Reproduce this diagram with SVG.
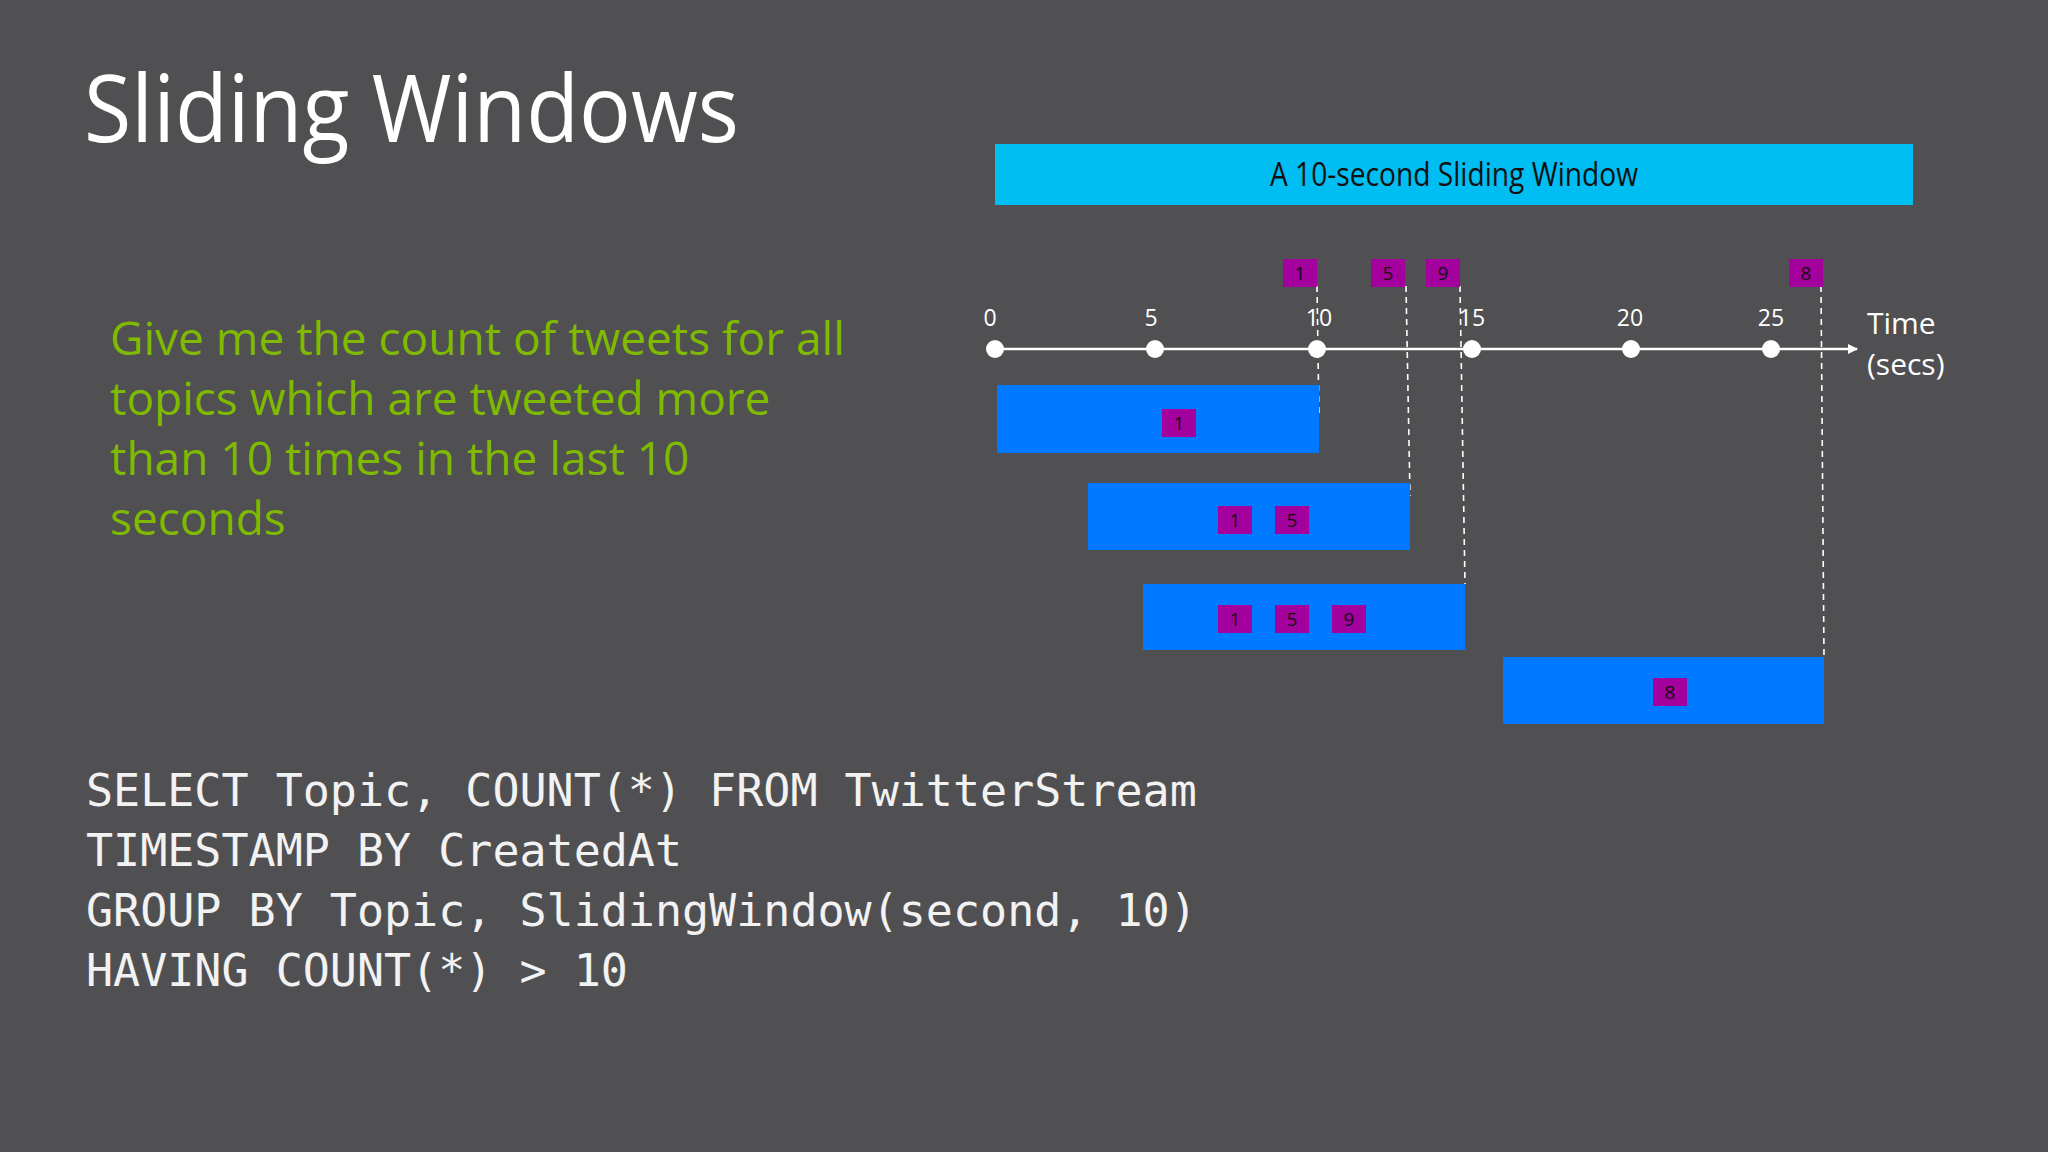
<svg xmlns="http://www.w3.org/2000/svg" width="2048" height="1152" viewBox="0 0 2048 1152">
<style>
.t{font-family:"Open Sans","Liberation Sans",sans-serif;fill:#fff}
.ax{font-family:"Open Sans","Liberation Sans",sans-serif;fill:#fff;font-size:23px;text-anchor:middle}
.g{font-family:"Open Sans","Liberation Sans",sans-serif;fill:#7fba00;font-size:46px}
.c{font-family:"DejaVu Sans Mono","Liberation Mono",monospace;fill:#f2f2f2;font-size:45px}
.bar{fill:#0078ff}
.m{fill:#a4009e}
.mt{font-family:"Open Sans","Liberation Sans",sans-serif;fill:#111;font-size:19px;text-anchor:middle}
.d{stroke:#fff;stroke-width:1.6;stroke-dasharray:6 5;fill:none}
</style>
<defs>
<marker id="ar" markerWidth="10" markerHeight="10" refX="9" refY="5" orient="auto" markerUnits="userSpaceOnUse"><path d="M0,0 L10,5 L0,10 z" fill="#fff"/></marker>
</defs>
<rect width="2048" height="1152" fill="#505052"/>
<text class="t" x="84" y="142" font-size="94" textLength="655" lengthAdjust="spacingAndGlyphs">Sliding Windows</text>
<g id="header"><rect x="995" y="144" width="918" height="61" fill="#00bdf2"/>
<text x="1454" y="186" font-family="Open Sans,Liberation Sans,sans-serif" font-size="32" fill="#111" text-anchor="middle" textLength="368" lengthAdjust="spacingAndGlyphs">A 10-second Sliding Window</text></g>
<g id="desc"><text class="g" x="110" y="355">Give me the count of tweets for all</text>
<text class="g" x="110" y="415">topics which are tweeted more</text>
<text class="g" x="110" y="475">than 10 times in the last 10</text>
<text class="g" x="110" y="535">seconds</text></g>
<g id="connectors">
<line x1="995" y1="349" x2="1857" y2="349" stroke="#fff" stroke-width="2.5" marker-end="url(#ar)"/>
<path class="d" d="M1317,286 L1319,418"/>
<path class="d" d="M1406,286 L1410,496"/>
<path class="d" d="M1460,286 L1465,584"/>
<path class="d" d="M1821,286 L1824,657"/>
</g>
<g id="axis">
<circle cx="995" cy="349" r="9" fill="#fff"/><circle cx="1155" cy="349" r="9" fill="#fff"/><circle cx="1317" cy="349" r="9" fill="#fff"/><circle cx="1472" cy="349" r="9" fill="#fff"/><circle cx="1631" cy="349" r="9" fill="#fff"/><circle cx="1771" cy="349" r="9" fill="#fff"/>
<text class="ax" x="990" y="326">0</text><text class="ax" x="1151" y="326">5</text><text class="ax" x="1319" y="326">10</text><text class="ax" x="1472" y="326">15</text><text class="ax" x="1630" y="326">20</text><text class="ax" x="1771" y="326">25</text>
<text class="t" x="1867" y="334" font-size="30">Time</text><text class="t" x="1867" y="375" font-size="30">(secs)</text>
</g>
<g id="events">
<rect class="m" x="1283" y="259" width="34" height="28"/><text class="mt" x="1300" y="280">1</text>
<rect class="m" x="1371" y="259" width="34" height="28"/><text class="mt" x="1388" y="280">5</text>
<rect class="m" x="1426" y="259" width="34" height="28"/><text class="mt" x="1443" y="280">9</text>
<rect class="m" x="1789" y="259" width="34" height="28"/><text class="mt" x="1806" y="280">8</text>
</g>
<g id="w1"><rect class="bar" x="997" y="385" width="322" height="68"/><rect class="m" x="1162" y="409" width="34" height="28"/><text class="mt" x="1179" y="430">1</text></g>
<g id="w2"><rect class="bar" x="1088" y="483" width="322" height="67"/><rect class="m" x="1218" y="506" width="34" height="28"/><text class="mt" x="1235" y="527">1</text><rect class="m" x="1275" y="506" width="34" height="28"/><text class="mt" x="1292" y="527">5</text></g>
<g id="w3"><rect class="bar" x="1143" y="584" width="322" height="66"/><rect class="m" x="1218" y="605" width="34" height="28"/><text class="mt" x="1235" y="626">1</text><rect class="m" x="1275" y="605" width="34" height="28"/><text class="mt" x="1292" y="626">5</text><rect class="m" x="1332" y="605" width="34" height="28"/><text class="mt" x="1349" y="626">9</text></g>
<g id="w4"><rect class="bar" x="1503" y="657" width="321" height="67"/><rect class="m" x="1653" y="678" width="34" height="28"/><text class="mt" x="1670" y="699">8</text></g>
<g id="code">
<text class="c" x="86" y="806">SELECT Topic, COUNT(*) FROM TwitterStream</text>
<text class="c" x="86" y="866">TIMESTAMP BY CreatedAt</text>
<text class="c" x="86" y="926">GROUP BY Topic, SlidingWindow(second, 10)</text>
<text class="c" x="86" y="986">HAVING COUNT(*) &gt; 10</text>
</g>
</svg>
